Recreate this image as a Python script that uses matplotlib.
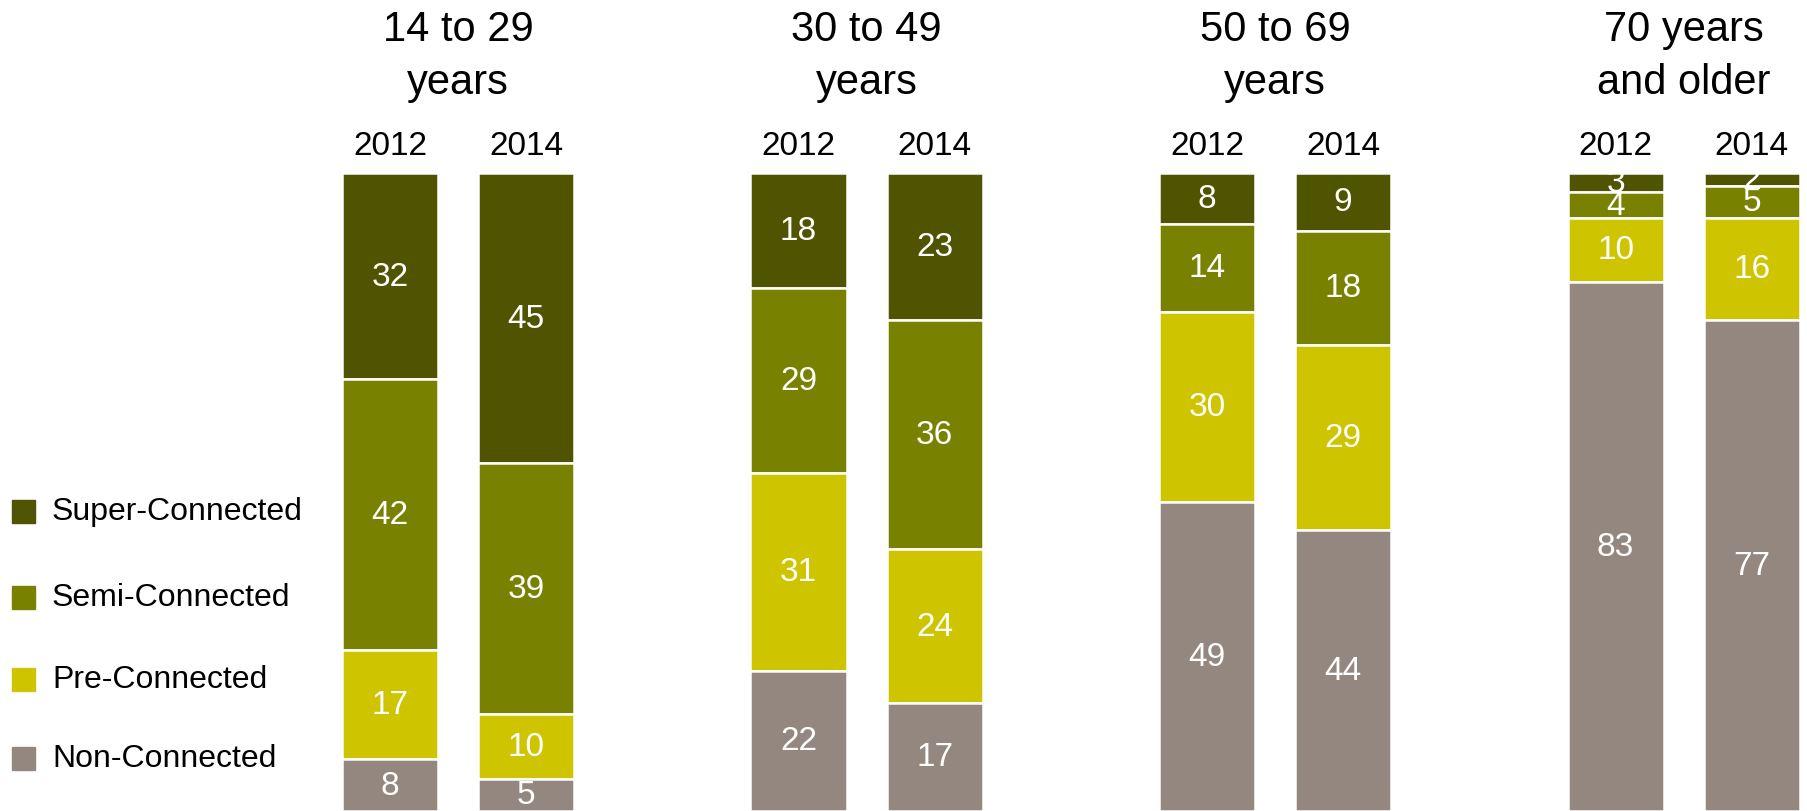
import matplotlib
matplotlib.use("Agg")
import matplotlib.pyplot as plt
from matplotlib.patches import Rectangle

plt.rcParams['font.family'] = ['Liberation Sans', 'DejaVu Sans']

groups = ["14 to 29\nyears", "30 to 49\nyears", "50 to 69\nyears", "70 years\nand older"]
years = ["2012", "2014"]
segments = ["Super-Connected", "Semi-Connected", "Pre-Connected", "Non-Connected"]
colors = ["#505400", "#788200", "#cfc400", "#94877f"]

# values per group, per year, in segment order (top to bottom)
super_connected = [[32, 45], [18, 23], [8, 9], [3, 2]]
semi_connected = [[42, 39], [29, 36], [14, 18], [4, 5]]
pre_connected = [[17, 10], [31, 24], [30, 29], [10, 16]]
non_connected = [[8, 5], [22, 17], [49, 44], [83, 77]]

series = [super_connected, semi_connected, pre_connected, non_connected]

W, H = 1807, 812
fig = plt.figure(figsize=(W / 100, H / 100), dpi=100)
ax = fig.add_axes([0, 0, 1, 1])
ax.set_xlim(-1.121, 3.302)
ax.set_ylim(0, 127.3)
ax.axis("off")

offset = 0.1665
width = 0.235
top = 100

for g in range(len(groups)):
    for yi, yr in enumerate(years):
        x = g + (-offset if yi == 0 else offset)
        total = sum(series[s][g][yi] for s in range(len(segments)))
        cur = top
        for s in range(len(segments)):
            v = series[s][g][yi]
            h = v / total * 100  # share of the column, so every column fills 100%
            ax.bar(x, h, bottom=cur - h, width=width, color=colors[s],
                   edgecolor="white", linewidth=1.8)
            ax.text(x, cur - h / 2, str(v), ha="center", va="center",
                    color="white", fontsize=24)
            cur -= h
        ax.text(x, 104.35, yr, ha="center", va="center", fontsize=24)
    ax.text(g, 118.5, groups[g], ha="center", va="center", fontsize=30,
            linespacing=1.42)

# legend drawn as squares with labels
leg_y = [512, 598, 680, 759]
for s, yy in enumerate(leg_y):
    fig.patches.append(Rectangle((12 / W, 1 - (yy + 11.5) / H), 23 / W, 23 / H,
                                 transform=fig.transFigure, color=colors[s]))
    fig.text(52 / W, 1 - yy / H, segments[s], ha="left", va="center",
             fontsize=23)

fig.savefig("out.png", dpi=100)
